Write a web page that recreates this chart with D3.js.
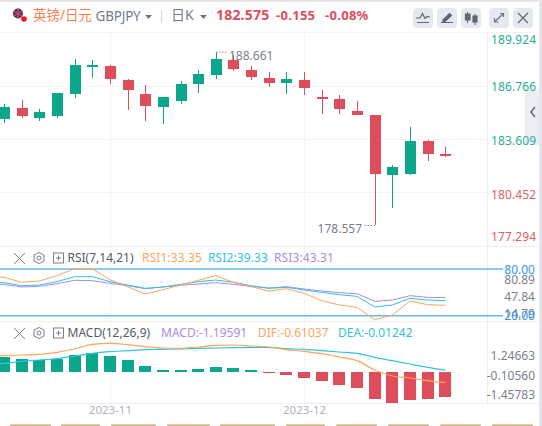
<!DOCTYPE html>
<html>
<head>
<meta charset="utf-8">
<script src="https://cdn.jsdelivr.net/npm/d3@7"></script>
<style>
html,body{margin:0;padding:0;background:#fff;overflow:hidden}
svg{display:block}
text{font-family:"Noto Sans","Noto Sans CJK SC",sans-serif}
</style>
</head>
<body>
<div id="chart"></div>
<script>
//candles
const opens =[184.754,185.378,184.812,184.929,186.212,187.786,187.827,187.011,186.194,185.454,185.804,186.795,187.320,188.177,187.594,187.127,186.853,187.011,186.019,185.903,185.203,184.970,181.489,181.547,183.454,182.713]
const closes=[185.436,184.929,185.145,186.253,187.885,187.885,187.086,186.445,185.512,186.019,186.777,187.361,188.235,187.670,187.186,186.853,187.069,186.562,185.903,185.337,184.987,181.547,181.938,183.454,182.713,182.575]
const highs =[185.611,185.845,185.320,186.253,188.235,188.159,187.885,187.069,186.719,186.019,186.952,187.594,188.661,188.469,187.827,187.477,187.477,187.477,186.428,186.136,185.786,184.970,182.054,184.270,183.512,183.104]
const lows  =[184.521,184.812,184.637,184.812,185.979,187.145,186.795,185.279,184.637,184.463,185.629,186.270,187.086,187.553,187.028,186.620,186.212,186.154,185.046,185.046,184.987,178.557,179.565,181.489,182.305,182.538]

//line arrays start one session before the first visible candle
const rsi1=[71.0,69.29,62.86,64.58,71.43,80.43,80.43,66.29,57.29,47.87,53.44,59.43,65.43,71.43,62.86,57.29,51.72,54.72,48.72,39.30,33.73,30.73,14.79,20.87,38.87,34.16,33.35]
const rsi2=[62.86,62.43,58.58,59.43,63.72,70.15,70.15,63.72,59.43,55.15,56.86,60.29,63.72,65.86,62.86,58.58,55.15,56.44,53.01,50.01,47.01,44.87,31.16,33.73,42.30,40.15,39.33]
const rsi3=[61.15,60.29,56.86,57.72,61.15,65.43,65.00,61.58,58.58,54.72,56.86,59.01,60.72,62.43,60.29,57.72,55.58,57.29,54.29,51.72,49.58,48.29,38.44,40.15,45.72,43.58,43.31]

const macd=[0.725,0.628,0.580,0.612,0.821,0.918,0.773,0.580,0.290,0.097,0.097,0.145,0.242,0.193,0.097,-0.032,-0.145,-0.290,-0.435,-0.628,-0.773,-1.304,-1.498,-1.353,-1.304,-1.208]
const dif=[0.773,0.789,0.821,0.853,0.950,1.111,1.336,1.385,1.320,1.224,1.159,1.143,1.208,1.288,1.304,1.256,1.208,1.079,1.001,0.886,0.725,0.548,0.097,-0.193,-0.290,-0.419,-0.515]
const dea=[0.370,0.419,0.515,0.580,0.644,0.773,0.902,0.982,1.030,1.079,1.095,1.111,1.143,1.159,1.175,1.191,1.191,1.127,1.095,1.030,0.966,0.902,0.709,0.548,0.386,0.225,0.081]

const priceLabels=[189.924,186.766,183.609,180.452,177.294]
const priceGrid=[186.643,183.553,180.463]
const rsiLevels=[80,20]
const rsiLabels=["80.89","47.84","14.79"]
const macdLabels=["1.24663","-0.10560","-1.45783"]
const dateTicks=[6,17]
const dateLabels=["2023-11","2023-12"]
const tabEdges=[[10,51],[61,100],[111,156],[167,210],[220,275],[286,325],[336,377],[388,429],[440,481],[492,533]]

const green="#0aa78a", red="#dd4d5b"
const cRsi1="#ffa45c", cRsi2="#2fc4de", cRsi3="#a98be8"
const grey="#7a7f8a"

const width=542, height=426
const svg=d3.select("#chart").append("svg").attr("width",width).attr("height",height)

const x=d3.scalePoint().domain(d3.range(-1,26)).range([-13.65,445.3])
const y=d3.scaleLinear().domain([178.557,188.661]).range([225,51.7])
const yRsi=d3.scaleLinear().domain([20,80]).range([315.7,269])
const yMacd=d3.scaleLinear().domain([-1,1]).range([392.7,351.3])

function translate(a,b){return `translate(${a}, ${b})`}

//frame
svg.append("rect").attr("width",width).attr("height",2).attr("fill","#e3e7ec")
svg.append("rect").attr("y",32).attr("width",539).attr("height",1).attr("fill","#f4f5f9")
svg.append("rect").attr("x",539).attr("width",3).attr("height",height).attr("fill","#e3e7ec")

//collapse tab, sits under the price labels
svg.append("rect").attr("x",525).attr("y",90).attr("width",14).attr("height",55).attr("fill","#eceef3")
svg.append("path").attr("d","M535 107L531 112L535 117").attr("fill","none").attr("stroke","#666c78").attr("stroke-width",1.6)

const grid=svg.append("g").attr("stroke","#f3f4f8").attr("shape-rendering","crispEdges")
grid.selectAll("line.h").data(priceGrid).join("line").attr("class","h")
    .attr("x1",0).attr("x2",487).attr("y1",d=>Math.round(y(d))+0.5).attr("y2",d=>Math.round(y(d))+0.5)
grid.selectAll("line.v").data(dateTicks).join("line").attr("class","v")
    .attr("x1",d=>Math.round(x(d))+0.5).attr("x2",d=>Math.round(x(d))+0.5).attr("y1",33).attr("y2",403)

const seps=svg.append("g").attr("stroke","#eceef2").attr("shape-rendering","crispEdges")
seps.selectAll("line").data([246.5,321.5,403.5]).join("line").attr("x1",0).attr("x2",539).attr("y1",d=>d).attr("y2",d=>d)
seps.append("line").attr("x1",487.5).attr("x2",487.5).attr("y1",33).attr("y2",403)

//candles
const idx=d3.range(26)
const candles=svg.append("g").attr("shape-rendering","crispEdges")
const candle=candles.selectAll("g").data(idx).join("g")
    .attr("fill",i=>closes[i]>=opens[i]?green:red)
candle.append("rect")
    .attr("x",i=>Math.round(x(i)))
    .attr("width",1)
    .attr("y",i=>y(highs[i]))
    .attr("height",i=>y(lows[i])-y(highs[i]))
candle.append("rect")
    .attr("x",i=>Math.round(x(i))-5)
    .attr("width",11)
    .attr("y",i=>y(Math.max(opens[i],closes[i])))
    .attr("height",i=>Math.max(1,Math.abs(y(opens[i])-y(closes[i]))))

//high and low marks
function extremeMark(i,val,dir){
    const px=Math.round(x(i))
    const py=y(val)
    svg.append("line").attr("x1",px).attr("x2",px+dir*11).attr("y1",py+0.5).attr("y2",py+0.5)
        .attr("stroke","#8a8f99").attr("stroke-dasharray","1.5 1.5")
    svg.append("text").attr("x",px+dir*13).attr("y",py+8)
        .attr("text-anchor",dir>0?"start":"end").attr("font-size",12).attr("fill",grey)
        .text(val.toFixed(3))
}
extremeMark(12,188.661,1)
extremeMark(21,178.557,-1)

//price axis
const priceAxis=svg.append("g").attr("transform",translate(491,0))
    .call(d3.axisRight(y).tickValues(priceLabels).tickSize(0).tickPadding(0).tickFormat(d3.format(".3f")))
priceAxis.select(".domain").remove()
priceAxis.selectAll(".tick")
    .attr("transform",d=>translate(0,Math.max(40.5,Math.min(237,y(d)+2.5))))
priceAxis.selectAll("text").attr("font-family",null).attr("font-size",12).attr("letter-spacing",0.1)
    .attr("fill",d=>d>=182?"#1fae95":"#e25a66")

//rsi
svg.selectAll("line.level").data(rsiLevels).join("line").attr("class","level")
    .attr("x1",0).attr("x2",503).attr("y1",d=>yRsi(d)).attr("y2",d=>yRsi(d))
    .attr("stroke","#68b6f3").attr("stroke-width",1.5)
const rsiLine=d3.line().x((d,i)=>x(i-1)).y(d=>yRsi(d))
;[[rsi3,cRsi3],[rsi2,cRsi2],[rsi1,cRsi1]].forEach(s=>{
    svg.append("path").datum(s[0]).attr("d",rsiLine).attr("fill","none").attr("stroke",s[1]).attr("stroke-width",1)
})
const rsiLabelY=d3.scalePoint().domain(rsiLabels).range([279.3,314])
const rsiAxis=svg.append("g").attr("transform",translate(535,0))
    .call(d3.axisLeft(rsiLabelY).tickSize(0).tickPadding(0))
rsiAxis.select(".domain").remove()
rsiAxis.selectAll("text").attr("font-family",null).attr("font-size",12).attr("fill",grey)
const levelAxis=svg.append("g").attr("transform",translate(535,0.3))
    .call(d3.axisLeft(yRsi).tickValues(rsiLevels).tickSize(0).tickPadding(0).tickFormat(d3.format(".2f")))
levelAxis.select(".domain").remove()
levelAxis.selectAll("text").attr("font-family",null).attr("font-size",12).attr("fill","#2f95ee")

//macd
svg.append("g").attr("shape-rendering","crispEdges").selectAll("rect").data(idx).join("rect")
    .attr("x",i=>Math.round(x(i))-6)
    .attr("width",12)
    .attr("y",i=>macd[i]>=0?yMacd(macd[i]):yMacd(0))
    .attr("height",i=>Math.max(1,Math.abs(yMacd(macd[i])-yMacd(0))))
    .attr("fill",i=>macd[i]>=0?green:red)
const macdLine=d3.line().x((d,i)=>x(i-1)).y(d=>yMacd(d)).curve(d3.curveMonotoneX)
svg.append("path").datum(dea).attr("d",macdLine).attr("fill","none").attr("stroke",cRsi2).attr("stroke-width",1.2)
svg.append("path").datum(dif).attr("d",macdLine).attr("fill","none").attr("stroke",cRsi1).attr("stroke-width",1.2)
const macdLabelY=d3.scalePoint().domain(macdLabels).range([355.7,394.7])
const macdAxis=svg.append("g").attr("transform",translate(535,0))
    .call(d3.axisLeft(macdLabelY).tickSize(0).tickPadding(0))
macdAxis.select(".domain").remove()
macdAxis.selectAll("text").attr("font-family",null).attr("font-size",12).attr("fill",grey)

//date axis
const dateAxis=svg.append("g").attr("transform",translate(0,403))
    .call(d3.axisBottom(x).tickValues(dateTicks).tickSize(0).tickPadding(3).tickFormat((d,i)=>dateLabels[i]))
dateAxis.select(".domain").remove()
dateAxis.selectAll("text").attr("font-family",null).attr("font-size",11.5).attr("fill","#aeb2c0")

//cut off tabs at the bottom
svg.selectAll("rect.tab").data(tabEdges).join("rect").attr("class","tab")
    .attr("x",d=>d[0]).attr("width",d=>d[1]-d[0]).attr("y",424.5).attr("height",1.5).attr("rx",1).attr("fill","#cda66e")

//header
function label(txt,px,py,size,color,weight){
    return svg.append("text").attr("x",px).attr("y",py).attr("font-size",size).attr("fill",color)
        .attr("font-weight",weight||400).text(txt)
}
svg.append("circle").attr("cx",18).attr("cy",13.5).attr("r",5).attr("fill","#39406e")
svg.append("path").attr("d","M13.5 11L22.5 16M13.5 16L22.5 11M18 8.5V18.5").attr("stroke","#d9415a").attr("stroke-width",1.4)
svg.append("circle").attr("cx",24).attr("cy",19).attr("r",2.8).attr("fill","#f5131f")
label("英镑/日元",33,20,13.5,"#fb7d52")
label("GBPJPY",95.5,21,13.5,"#767c89").attr("letter-spacing",-0.2)
svg.append("path").attr("d","M145 15H152L148.5 19Z").attr("fill","#6d7380")
svg.append("rect").attr("x",161).attr("y",10).attr("width",1).attr("height",13).attr("fill","#d4d6dc")
label("日K",171,20,14,"#767c89")
svg.append("path").attr("d","M200 15H207L203.5 19Z").attr("fill","#6d7380")
label("182.575",216,20,14,red,700).attr("letter-spacing",0.2)
label("-0.155",276,20,13,red,700).attr("letter-spacing",0.3)
label("-0.08%",325,20,13,red,700).attr("letter-spacing",0.3)

const buttons=[413,437,461,489,513]
svg.selectAll("rect.btn").data(buttons).join("rect").attr("class","btn")
    .attr("x",d=>d).attr("y",8).attr("width",20).attr("height",20).attr("rx",4).attr("fill","#e6e8ef")
const ic=svg.append("g").attr("fill","none").attr("stroke","#5f6572").attr("stroke-width",1.2)
ic.append("path").attr("d","M416 18L420 18L422.5 13.5L425 18.5L427 16.5L430 17M417 22.5H429")
ic.append("path").attr("d","M441 22.5H453M443 20L449.5 13.5L451.5 15.5L445 21.5H443Z").attr("fill","#5f6572")
ic.append("path").attr("d","M467.5 12V23M475 14V25").attr("stroke-width",1)
ic.append("path").attr("d","M465.5 14H470V20H465.5ZM473 16H477V22H473Z").attr("fill","#5f6572")
ic.append("path").attr("d","M495 21.5L503 14M500 13.5H503.5V17M498.5 22H494.5V18").attr("stroke","#6d7380")
ic.append("path").attr("d","M518 13L528 23M528 13L518 23")

//panel headers
function panelIcons(py){
    const g=svg.append("g").attr("fill","none").attr("stroke","#7a7f8a").attr("stroke-width",1)
    g.append("path").attr("d",`M14 ${py-5}L25 ${py+6}M25 ${py-5}L14 ${py+6}`)
    g.append("path").attr("d",`M39 ${py-5.5}L44 ${py-3}V${py+3}L39 ${py+5.5}L34 ${py+3}V${py-3}Z`)
    g.append("circle").attr("cx",39).attr("cy",py).attr("r",2)
    g.append("rect").attr("x",53.5).attr("y",py-5).attr("width",10).attr("height",10)
    g.append("path").attr("d",`M56 ${py}H61M58.5 ${py-2.5}V${py+2.5}`)
}
panelIcons(258)
panelIcons(333)
label("RSI(7,14,21)",67.5,262,12,"#555a66")
label("RSI1:33.35",142,262,12,cRsi1).attr("letter-spacing",0.1)
label("RSI2:39.33",208,262,12,cRsi2).attr("letter-spacing",0.1)
label("RSI3:43.31",274,262,12,cRsi3).attr("letter-spacing",0.1)
label("MACD(12,26,9)",67.5,337,12,"#555a66")
label("MACD:-1.19591",161,337,12,cRsi3)
label("DIF:-0.61037",258,337,12,cRsi1)
label("DEA:-0.01242",338,337,12,cRsi2)
</script>
</body>
</html>
